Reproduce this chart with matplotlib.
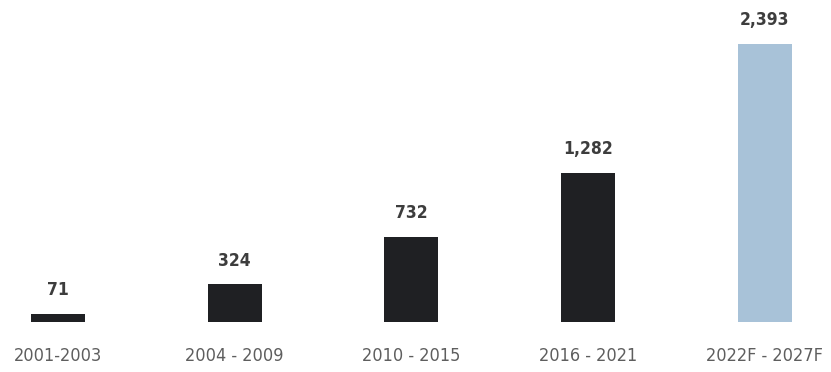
import matplotlib
matplotlib.use("Agg")
import matplotlib.pyplot as plt
import numpy as np

periods = ["2001-2003", "2004 - 2009", "2010 - 2015", "2016 - 2021", "2022F - 2027F"]
counts = [71, 324, 732, 1282, 2393]
bar_colors = ["#1f2023", "#1f2023", "#1f2023", "#1f2023", "#a8c2d8"]

plt.rcParams['font.family'] = ['DejaVu Sans']
plt.rcParams['font.stretch'] = 'condensed'

fig = plt.figure(figsize=(8.31, 3.72), dpi=100)
ax = fig.add_axes([0, 50 / 372, 1, 322 / 372])

x = np.arange(len(periods))
bars = ax.bar(x, counts, width=0.305, color=bar_colors)

# value labels over each bar
for b, v in zip(bars, counts):
    ax.annotate(f"{v:,}", (b.get_x() + b.get_width() / 2, v),
                xytext=(0, 10.5), textcoords="offset points",
                ha="center", va="bottom", fontsize=12.5, fontweight="bold",
                color="#3d3d3d", fontstretch="condensed")

ax.set_xlim(-0.328, 4.374)
ax.set_ylim(0, 2393 * 322 / 278)
ax.set_xticks(x)
ax.set_xticklabels(periods, fontsize=13, color="#5e5e5e", fontstretch="condensed")
ax.tick_params(axis="x", length=0, pad=18)
ax.set_yticks([])
for s in ax.spines.values():
    s.set_visible(False)

fig.savefig("out.png", dpi=100)
